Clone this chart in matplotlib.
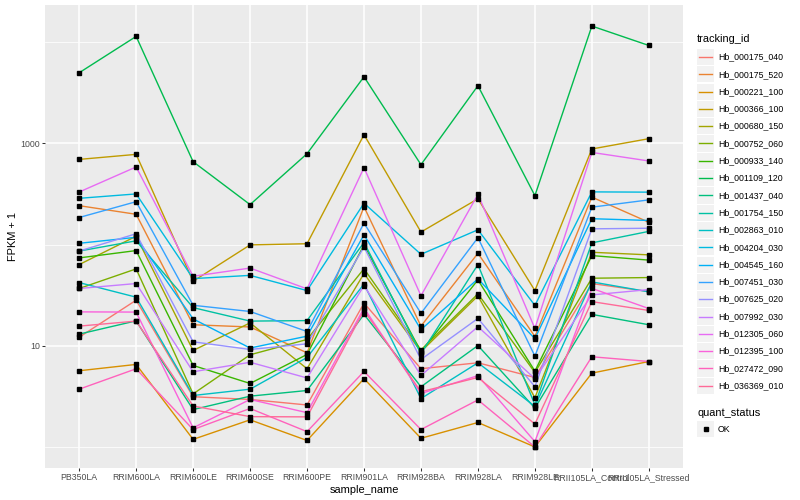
import numpy as np
import matplotlib.pyplot as plt
from matplotlib.patches import Rectangle
from matplotlib.lines import Line2D
from matplotlib.ticker import NullFormatter

plt.rcParams['font.family'] = ['Liberation Sans', 'DejaVu Sans']

samples = ['PB350LA', 'RRIM600LA', 'RRIM600LE', 'RRIM600SE', 'RRIM600PE', 'RRIM901LA',
           'RRIM928BA', 'RRIM928LA', 'RRIM928LE', 'RRII105LA_Control', 'RRII105LA_Stressed']

# FPKM + 1
hb_000175_040 = [12.2, 28.3, 3.16, 2.97, 2.62, 26.5, 5.97, 6.83, 4.89, 41.3, 34.4]
hb_000175_520 = [242, 199, 16.2, 15.4, 8.57, 236, 15.7, 82.1, 12.4, 294, 166]
hb_000221_100 = [5.70, 6.58, 1.20, 1.87, 1.17, 4.76, 1.23, 1.76, 1.01, 5.40, 7.03]
hb_000366_100 = [692, 776, 43.5, 99.3, 102, 1213, 133, 283, 35.2, 877, 1108]
hb_000680_150 = [63.5, 121, 9.03, 16.9, 5.97, 51.8, 8.79, 31.2, 3.09, 84.0, 79.2]
hb_000752_060 = [36.9, 57.6, 3.37, 8.19, 11.6, 57.8, 9.14, 32.7, 5.48, 46.6, 47.3]
hb_000933_140 = [73.9, 87.3, 6.43, 4.27, 8.25, 99.3, 8.79, 44.9, 5.65, 77.9, 70.3]
hb_001109_120 = [4950, 11300, 657, 248, 788, 4520, 614, 3690, 304, 14300, 9200]
hb_001437_040 = [13.1, 17.7, 2.36, 3.20, 3.64, 20.5, 3.96, 10.1, 2.44, 20.5, 16.2]
hb_001754_150 = [86.3, 109, 23.9, 17.6, 17.8, 105, 8.40, 63.5, 2.63, 104, 135]
hb_002863_010 = [42.2, 30.3, 3.25, 3.75, 7.70, 40.8, 3.03, 6.83, 2.54, 42.9, 34.2]
hb_004204_030 = [286, 316, 46.2, 49.7, 35.2, 256, 80.2, 140, 25.1, 331, 329]
hb_004545_160 = [103, 118, 18.5, 9.55, 12.5, 125, 14.5, 45.9, 11.8, 180, 173]
hb_007451_030 = [185, 265, 25.2, 21.9, 13.9, 163, 21.0, 117, 7.94, 234, 276]
hb_007625_020 = [86.3, 128, 11.0, 9.24, 10.5, 94.9, 7.36, 18.7, 3.97, 143, 145]
hb_007992_030 = [36.9, 41.3, 5.57, 6.91, 4.84, 39.4, 5.12, 15.5, 4.76, 31.9, 36.0]
hb_012305_060 = [330, 583, 48.7, 58.7, 36.6, 574, 31.3, 313, 14.9, 811, 668]
hb_012395_100 = [21.7, 21.6, 1.56, 2.97, 2.20, 23.7, 3.40, 5.10, 1.14, 37.0, 23.4]
hb_027472_090 = [3.75, 5.96, 1.50, 2.42, 1.43, 5.61, 1.50, 2.94, 1.01, 7.83, 7.03]
hb_036369_010 = [15.7, 17.6, 2.56, 2.01, 2.00, 22.4, 3.54, 4.89, 1.70, 27.4, 22.4]

ids = ['Hb_000175_040', 'Hb_000175_520', 'Hb_000221_100', 'Hb_000366_100', 'Hb_000680_150',
       'Hb_000752_060', 'Hb_000933_140', 'Hb_001109_120', 'Hb_001437_040', 'Hb_001754_150',
       'Hb_002863_010', 'Hb_004204_030', 'Hb_004545_160', 'Hb_007451_030', 'Hb_007625_020',
       'Hb_007992_030', 'Hb_012305_060', 'Hb_012395_100', 'Hb_027472_090', 'Hb_036369_010']
series = [hb_000175_040, hb_000175_520, hb_000221_100, hb_000366_100, hb_000680_150,
          hb_000752_060, hb_000933_140, hb_001109_120, hb_001437_040, hb_001754_150,
          hb_002863_010, hb_004204_030, hb_004545_160, hb_007451_030, hb_007625_020,
          hb_007992_030, hb_012305_060, hb_012395_100, hb_027472_090, hb_036369_010]
# ggplot hue palette, 20 levels
colors = ['#F8766D', '#EA8331', '#D89000', '#C09B00', '#A3A500', '#7CAE00', '#39B600',
          '#00BB4E', '#00BF7D', '#00C1A3', '#00BFC4', '#00BAE0', '#00B0F6', '#35A2FF',
          '#9590FF', '#C77CFF', '#E76BF3', '#FA62DB', '#FF62BC', '#FF6A98']

W, H = 800, 500
fig = plt.figure(figsize=(8, 5), dpi=100)
ax = fig.add_axes([45 / W, 1 - 468 / H, (683 - 45) / W, (468 - 5) / H])
ax.set_facecolor('#EBEBEB')

x = np.arange(len(samples))
for vals, c in zip(series, colors):
    ax.plot(x, vals, color=c, lw=1.0, zorder=3)
for vals in series:
    ax.plot(x, vals, 's', color='black', ms=2.5, zorder=4)

ax.set_yscale('log')
allv = np.log10(np.concatenate([np.array(s, float) for s in series]))
lo, hi = allv.min(), allv.max()
pad = 0.05 * (hi - lo)
ax.set_ylim(10 ** (lo - pad), 10 ** (hi + pad))
ax.set_xlim(-0.6, len(samples) - 0.4)

ax.set_yticks([10, 1000])
ax.set_yticklabels(['10', '1000'])
ax.set_yticks([1, 100, 10000], minor=True)
ax.yaxis.set_minor_formatter(NullFormatter())
ax.set_xticks(x)
ax.set_xticklabels(samples)

ax.set_axisbelow(True)
ax.grid(which='major', color='white', lw=1.1)
ax.grid(which='minor', axis='y', color='white', lw=0.55)
for s in ax.spines.values():
    s.set_visible(False)
ax.tick_params(which='major', length=2, width=0.75, color='#333333',
               labelsize=6.3, labelcolor='#4D4D4D', pad=1.5)
ax.tick_params(which='minor', length=0)
ax.set_xlabel('sample_name', fontsize=7.9, labelpad=2)
ax.set_ylabel('FPKM + 1', fontsize=7.9, labelpad=2)

# legend drawn like ggplot's
def fy(y):
    return 1 - y / H

fig.text(697 / W, fy(39), 'tracking_id', fontsize=7.9, va='center')
for i, (name, c) in enumerate(zip(ids, colors)):
    yc = 57 + i * 17.3
    fig.add_artist(Rectangle((697 / W, fy(yc + 8.1)), 16.5 / W, 16.2 / H,
                             facecolor='#F2F2F2', edgecolor='none', transform=fig.transFigure))
    fig.add_artist(Line2D([699 / W, 712 / W], [fy(yc), fy(yc)], color=c, lw=1.0))
    fig.text(718 / W, fy(yc), name, fontsize=6.3, va='center')

fig.text(697 / W, fy(412.5), 'quant_status', fontsize=7.9, va='center')
fig.add_artist(Rectangle((697 / W, fy(429 + 8.1)), 16.5 / W, 16.2 / H,
                         facecolor='#F2F2F2', edgecolor='none', transform=fig.transFigure))
fig.add_artist(Line2D([705.5 / W], [fy(429)], marker='s', color='black', ms=2.5, lw=0))
fig.text(718 / W, fy(429), 'OK', fontsize=6.3, va='center')

fig.savefig('out.png', dpi=100)
